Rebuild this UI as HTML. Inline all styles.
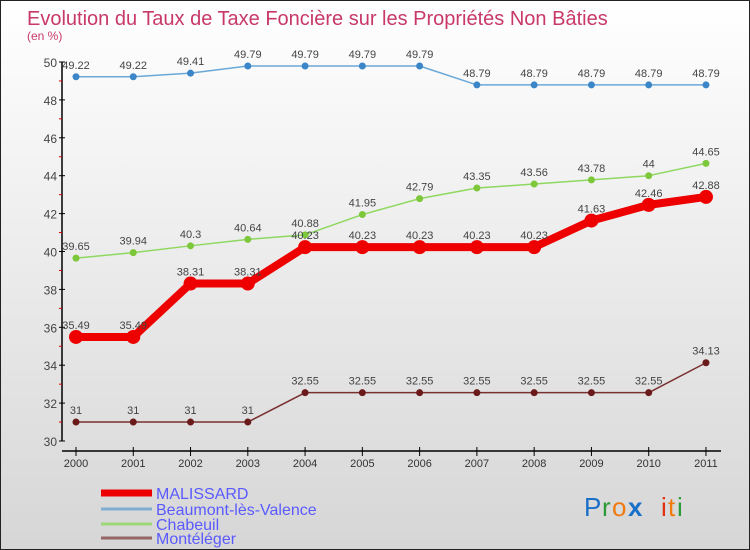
<!DOCTYPE html>
<html><head><meta charset="utf-8"><style>
body{margin:0}
#wrap{width:748px;height:548px;border:1px solid #222;background:linear-gradient(#fff,#d6d6d6);position:relative;font-family:"Liberation Sans",sans-serif;overflow:hidden}
</style></head><body>
<div id="wrap">
<svg id="c" width="748" height="548" xmlns="http://www.w3.org/2000/svg">
<text x="26" y="24" font-size="20" fill="#c8386a" font-family="Liberation Sans, sans-serif">Evolution du Taux de Taxe Foncière sur les Propriétés Non Bâties</text>
<text x="26" y="39" font-size="12" fill="#c8386a" font-family="Liberation Sans, sans-serif">(en %)</text>
<g id="axes"></g><g id="series"></g><g id="legend"></g>
<g font-family="Liberation Sans, sans-serif" font-size="26">
<text x="583" y="515" fill="#1a6fc8">P</text><text x="601" y="515" fill="#2a9a3a">r</text><text x="611" y="515" fill="#f07a10">o</text><text x="627" y="515" fill="#1a6fc8" font-weight="bold">x</text><text x="660" y="515" fill="#e03010">i</text><text x="667" y="515" fill="#f07a10">t</text><text x="676" y="515" fill="#2a9a3a">i</text>
</g>
</svg>
</div>
<script>
const years=[2000,2001,2002,2003,2004,2005,2006,2007,2008,2009,2010,2011];
const malissard=[35.49,35.49,38.31,38.31,40.23,40.23,40.23,40.23,40.23,41.63,42.46,42.88];
const beaumont=[49.22,49.22,49.41,49.79,49.79,49.79,49.79,48.79,48.79,48.79,48.79,48.79];
const chabeuil=[39.65,39.94,40.3,40.64,40.88,41.95,42.79,43.35,43.56,43.78,44,44.65];
const monteleger=[31,31,31,31,32.55,32.55,32.55,32.55,32.55,32.55,32.55,34.13];
const yTicks=[30,32,34,36,38,40,42,44,46,48,50];
const NS="http://www.w3.org/2000/svg";
const X=i=>75+i*57.27, Y=v=>440-(v-30)*18.95;
function mk(t,a,p){const e=document.createElementNS(NS,t);for(const k in a)e.setAttribute(k,a[k]);p.appendChild(e);return e;}
const ax=document.getElementById('axes');
let l=mk('line',{x1:61,y1:61,x2:61,y2:440,stroke:'#000','stroke-width':1.5},ax);


l=mk('line',{x1:61,y1:450,x2:720,y2:450,stroke:'#000','stroke-width':1.5},ax);


yTicks.forEach(v=>{mk('line',{x1:58,y1:Y(v),x2:64,y2:Y(v),stroke:'#000'},ax);
 if(v<50)mk('line',{x1:58,y1:Y(v+1),x2:61,y2:Y(v+1),stroke:'#d00'},ax);
 const t=mk('text',{x:56,y:Y(v)+5,'text-anchor':'end','font-size':12,fill:'#444'},ax);t.textContent=v;
 
 });
years.forEach((y,i)=>{mk('line',{x1:X(i),y1:446,x2:X(i),y2:455,stroke:'#000'},ax);
 const t=mk('text',{x:X(i),y:466,'text-anchor':'middle','font-size':11,fill:'#333'},ax);t.textContent=y;
 
 });
const sg=document.getElementById('series');
function series(vals,color,w,r,dot,name){
 const g=mk('g',{},sg);
 
 
 mk('polyline',{points:vals.map((v,i)=>X(i)+','+Y(v)).join(' '),fill:'none',stroke:color,'stroke-width':w,'stroke-linejoin':'round'},g);
 vals.forEach((v,i)=>{const c=mk('circle',{cx:X(i),cy:Y(v),r:r,fill:dot},g);
  
  
  const t=mk('text',{x:X(i),y:Y(v)-8,'text-anchor':'middle','font-size':11,fill:'#444'},g);t.textContent=v;
  
  });
}
series(beaumont,'#6aa8d8',1.5,3.5,'#3a86c8','series-beaumont');
series(chabeuil,'#8ed860',1.5,3.5,'#7cc83a','series-chabeuil');
series(monteleger,'#7a3030',1.5,3.5,'#6a1a1a','series-monteleger');
series(malissard,'#ee0000',8,7,'#ee0000','series-malissard');
const lg=document.getElementById('legend');
[['MALISSARD','#ee0000',7,492],['Beaumont-lès-Valence','#80aed0',3,508],['Chabeuil','#9cd878',3,523],['Montéléger','#946666',3,537]].forEach(d=>{
 const g=mk('g',{},lg);
 
 
 mk('line',{x1:100,y1:d[3],x2:151,y2:d[3],stroke:d[1],'stroke-width':d[2]},g);
 const t=mk('text',{x:155,y:d[3]+6,'font-size':16,fill:'#5a5aff'},g);t.textContent=d[0];
});
</script>
</body></html>
